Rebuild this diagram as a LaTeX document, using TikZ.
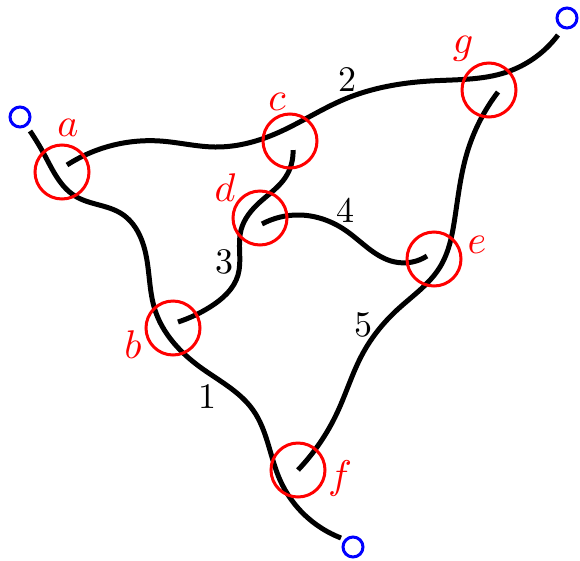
\documentclass[tikz,border=0pt]{standalone}
\usetikzlibrary{hobby}
\begin{document}
\begin{tikzpicture}[x=1pt,y=-1pt,
  strand/.style={line width=5pt,use Hobby shortcut},
  xing/.style={circle,draw=red,line width=3pt,minimum size=54pt,inner sep=0pt},
  endpt/.style={circle,draw=blue,line width=3pt,minimum size=20pt,inner sep=0pt},
  lab/.style={text=red,scale=4,inner sep=0pt},
  num/.style={scale=3.6,inner sep=0pt}]
\useasboundingbox (0,0) rectangle (580,560);
% strands
\draw[strand] (30,131) .. (44,154) .. (75,196) .. (122,214) .. (146,255) .. (155,310) .. (200,367) .. (253,410) .. (280,480) .. (341,538);
\draw[strand] (67,165) .. (160,141) .. (215,147) .. (275,134) .. (345,99) .. (430,81) .. (507,72) .. (558,35);
\draw[strand] (293,150) .. (285,178) .. (260,202) .. (241,230) .. (238,275) .. (210,307) .. (178,322);
\draw[strand] (262,224) .. (300,215) .. (345,230) .. (395,262) .. (427,256);
\draw[strand] (298,470) .. (337,413) .. (363,353) .. (397,310) .. (440,267) .. (455,217) .. (467,153) .. (498,92);
% crossings
\node[xing] (a) at (62,172) {};
\node[xing] (c) at (290,141) {};
\node[xing] (d) at (260,218) {};
\node[xing] (g) at (489,90) {};
\node[xing] (b) at (173,328) {};
\node[xing] (f) at (298,470) {};
\node[xing] (e) at (434,259) {};
% ends
\node[endpt] (p1) at (20,117) {};
\node[endpt] (p2) at (567,18) {};
\node[endpt] (p3) at (353,547) {};
% labels
\node[lab] (la) at (68,128) {$a$};
\node[lab] (lc) at (277,102) {$c$};
\node[lab] (ld) at (225,188) {$d$};
\node[lab] (lg) at (463,49) {$g$};
\node[lab] (lb) at (133,345) {$b$};
\node[lab] (lf) at (340,478) {$f$};
\node[lab] (le) at (477,245) {$e$};
\node[num] (n2) at (347,80) {2};
\node[num] (n4) at (345,210) {4};
\node[num] (n3) at (224,262) {3};
\node[num] (n5) at (363,325) {5};
\node[num] (n1) at (207,397) {1};
\end{tikzpicture}
\end{document}
